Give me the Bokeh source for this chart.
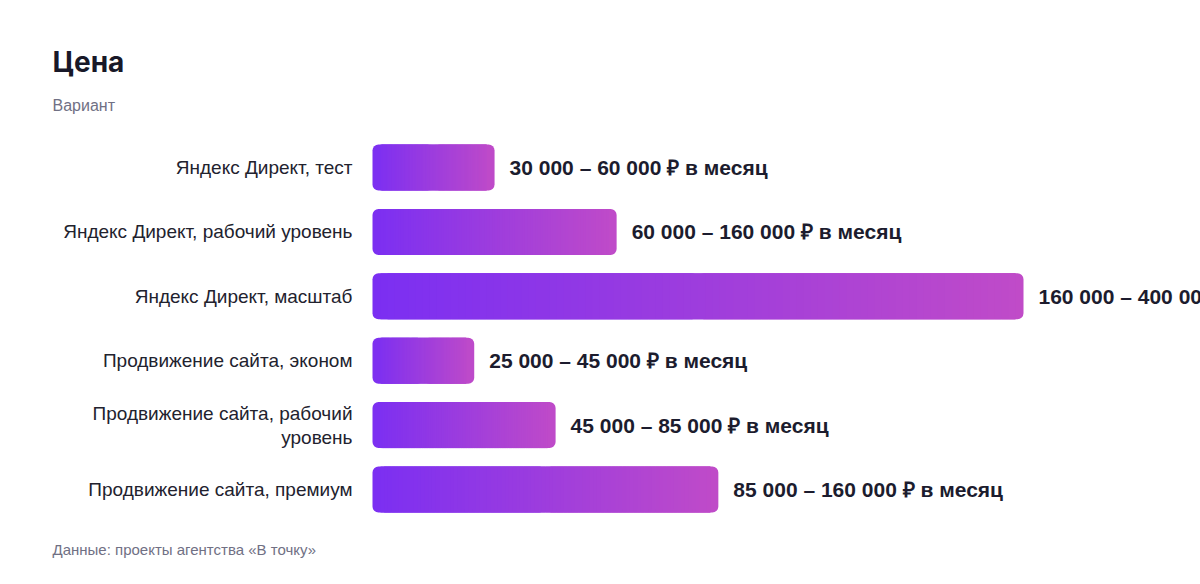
from bokeh.plotting import figure
from bokeh.models import Range1d, Title
from bokeh.core.properties import value
from bokeh.embed import file_html
from bokeh.resources import INLINE

# ---- data ----
categories = [
    "Яндекс Директ, тест",
    "Яндекс Директ, рабочий уровень",
    "Яндекс Директ, масштаб",
    "Продвижение сайта, эконом",
    "Продвижение сайта, рабочий\nуровень",
    "Продвижение сайта, премиум",
]
price_min = [30000, 60000, 160000, 25000, 45000, 85000]
price_max = [60000, 160000, 400000, 45000, 85000, 160000]
title_text = "Цена"
subtitle_text = "Вариант"
source_text = "Данные: проекты агентства «В точку»"


def fmt(v):
    return f"{v:,}".replace(",", " ")


value_labels = [f"{fmt(a)} – {fmt(b)} ₽ в месяц" for a, b in zip(price_min, price_max)]

# ---- layout constants (pixels) ----
W, H = 1200, 584
frame_left_px = 52
zero_px = 372            # canvas x where value 0 sits
px_per_unit = 651 / 160000
frame_w = W - frame_left_px
frame_top_px, frame_bottom_px = 128, 528
row_px = 64.4
first_center_px = 167

x0 = -(zero_px - frame_left_px) / px_per_unit
x1 = x0 + frame_w / px_per_unit
n = len(categories)
y_top = -(first_center_px - frame_top_px) / row_px
y_bot = (n - 1) + (frame_bottom_px - (first_center_px + row_px * (n - 1))) / row_px

ys = list(range(n))

p = figure(width=W, height=H, output_backend="svg", toolbar_location=None,
           x_range=Range1d(x0, x1), y_range=Range1d(y_bot, y_top),
           title=None, min_border_left=frame_left_px, min_border_right=0,
           min_border_top=frame_top_px, min_border_bottom=H - frame_bottom_px)
p.xaxis.visible = False
p.yaxis.visible = False
p.grid.visible = False
p.outline_line_color = None
p.background_fill_color = "white"
p.border_fill_color = "white"

c0 = (123, 47, 242)
c1 = (192, 75, 200)


def mix(t):
    r = [round(a + (b - a) * t) for a, b in zip(c0, c1)]
    return "#%02x%02x%02x" % tuple(r)


bar_h = 0.714
cap_w = 8 / px_per_unit
N = 90
# rounded caps
p.hbar(y=ys, height=bar_h, left=[0] * n, right=[v * 0.5 for v in price_min],
       fill_color=[mix(cap_w / v / 2) for v in price_min], line_color=None, border_radius=6)
p.hbar(y=ys, height=bar_h, left=[v * 0.5 for v in price_min], right=price_min,
       fill_color=[mix(1 - cap_w / v / 2) for v in price_min], line_color=None, border_radius=6)
# gradient slices
sy, sl, sr, sc = [], [], [], []
for y, v in zip(ys, price_min):
    a, b = cap_w, v - cap_w
    for k in range(N):
        l = a + (b - a) * k / N
        r = a + (b - a) * (k + 1) / N
        sy.append(y)
        sl.append(l)
        sr.append(min(b, r + (b - a) / N))
        sc.append(mix((l + r) / 2 / v))
p.hbar(y=sy, height=bar_h, left=sl, right=sr, fill_color=sc, line_color=None)

# value labels
p.text(x=price_min, y=ys, text=value_labels, x_offset=15,
       text_font=value("Liberation Sans"), text_font_style="bold",
       text_font_size="21px", text_color="#1c1c2e",
       text_align="left", text_baseline="middle")

# category labels
p.text(x=[0] * n, y=ys, text=categories, x_offset=-20,
       text_font=value("Liberation Sans"), text_font_size="19px",
       text_color="#22222e", text_align="right", text_baseline="middle",
       text_line_height=1.15)

sub = Title(text=subtitle_text, text_font="Liberation Sans", text_font_size="16px",
            text_font_style="normal", text_color="#707084", align="left", standoff=29)
main = Title(text=title_text, text_font="Inter", text_font_size="28px",
             text_font_style="bold", text_color="#181828", align="left", standoff=3)
p.add_layout(sub, "above")
p.add_layout(main, "above")
foot = Title(text=source_text, text_font="Liberation Sans", text_font_size="15px",
             text_font_style="normal", text_color="#707084", align="left", standoff=20)
p.add_layout(foot, "below")

open("out.html", "w").write(file_html(p, INLINE))
